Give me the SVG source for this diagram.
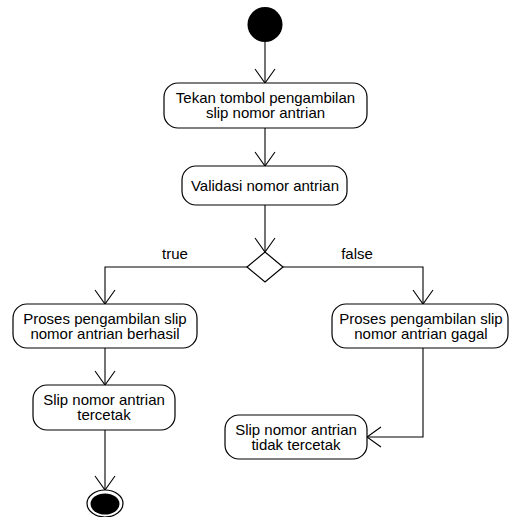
<svg xmlns="http://www.w3.org/2000/svg" width="510" height="517" viewBox="0 0 510 517">
<style>
.node rect{fill:#fff;stroke:#000;stroke-width:1.2}
text{font-family:"Liberation Sans",Arial,sans-serif;font-size:15px;fill:#000;text-anchor:middle}
.edge{fill:none;stroke:#000;stroke-width:1.1}
</style>
<defs>
<marker id="arr" markerUnits="userSpaceOnUse" markerWidth="18" markerHeight="24" refX="16" refY="12" orient="auto">
<path d="M2,2 L16,12 L2,22" fill="none" stroke="#000" stroke-width="1.1"/>
</marker>
</defs>
<rect width="510" height="517" fill="#fff"/>
<g id="connectors">
<path class="edge" d="M265,42 L265,83" marker-end="url(#arr)"/>
<path class="edge" d="M265,128 L265,166" marker-end="url(#arr)"/>
<path class="edge" d="M265,205 L265,252" marker-end="url(#arr)"/>
<path class="edge" d="M247,267 L105,267 L105,304" marker-end="url(#arr)"/>
<path class="edge" d="M283,267 L423,267 L423,304" marker-end="url(#arr)"/>
<path class="edge" d="M105,348 L105,385" marker-end="url(#arr)"/>
<path class="edge" d="M105,430 L105,490" marker-end="url(#arr)"/>
<path class="edge" d="M423,348 L423,437 L367,437" marker-end="url(#arr)"/>
<text x="175" y="259">true</text>
<text x="357" y="259">false</text>
</g>
<g id="start"><circle cx="265" cy="24.5" r="17.5" fill="#000"/></g>
<g id="n1" class="node"><rect x="164" y="83" width="203" height="45" rx="14"/><text x="265.5" y="103">Tekan tombol pengambilan</text><text x="265.5" y="118">slip nomor antrian</text></g>
<g id="n2" class="node"><rect x="182" y="166" width="165" height="39" rx="14"/><text x="265" y="191">Validasi nomor antrian</text></g>
<g id="decision"><polygon points="265,252 283,267 265,282 247,267" fill="#fff" stroke="#000" stroke-width="1.2"/></g>
<g id="n3" class="node"><rect x="13" y="304" width="184" height="44" rx="14"/><text x="105" y="323.5">Proses pengambilan slip</text><text x="105" y="338.5">nomor antrian berhasil</text></g>
<g id="n4" class="node"><rect x="332" y="304" width="176" height="44" rx="14"/><text x="421" y="323.5">Proses pengambilan slip</text><text x="421" y="338.5">nomor antrian gagal</text></g>
<g id="n5" class="node"><rect x="33" y="385" width="142" height="45" rx="14"/><text x="104" y="405">Slip nomor antrian</text><text x="104" y="420">tercetak</text></g>
<g id="n6" class="node"><rect x="225" y="415" width="142" height="44" rx="14"/><text x="296" y="435">Slip nomor antrian</text><text x="296" y="450">tidak tercetak</text></g>
<g id="end"><ellipse cx="105" cy="503.5" rx="18" ry="13.5" fill="#fff" stroke="#000" stroke-width="1.2"/><ellipse cx="105" cy="504" rx="14.5" ry="10.5" fill="#000"/></g>
</svg>
